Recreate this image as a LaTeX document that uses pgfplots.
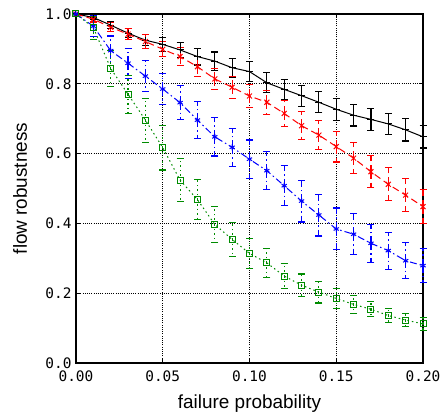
\documentclass[border=0pt]{standalone}
\usepackage{fontspec}
\setmainfont{Liberation Sans}
\setmonofont{DejaVu Sans Mono}
\usepackage{pgfplots}
\usepackage{pgfplotstable}
\pgfplotsset{compat=1.18}
\definecolor{gpgreen}{RGB}{0,140,0}

\pgfplotstableread{
x y e
0.00 1.000 0
0.01 0.990 0.005
0.02 0.968 0.010
0.03 0.945 0.013
0.04 0.925 0.016
0.05 0.913 0.020
0.06 0.897 0.022
0.07 0.878 0.024
0.08 0.865 0.026
0.09 0.846 0.027
0.10 0.835 0.028
0.11 0.803 0.029
0.12 0.784 0.029
0.13 0.766 0.030
0.14 0.747 0.030
0.15 0.727 0.031
0.16 0.710 0.031
0.17 0.698 0.031
0.18 0.685 0.031
0.19 0.668 0.032
0.20 0.648 0.032
}\blackdata

\pgfplotstableread{
x y e
0.00 1.000 0
0.01 0.985 0.008
0.02 0.962 0.013
0.03 0.942 0.016
0.04 0.921 0.019
0.05 0.899 0.022
0.06 0.878 0.025
0.07 0.849 0.028
0.08 0.814 0.030
0.09 0.790 0.032
0.10 0.765 0.033
0.11 0.747 0.035
0.12 0.715 0.038
0.13 0.680 0.040
0.14 0.653 0.042
0.15 0.620 0.044
0.16 0.587 0.045
0.17 0.548 0.046
0.18 0.512 0.047
0.19 0.481 0.048
0.20 0.448 0.048
}\reddata

\pgfplotstableread{
x y e
0.00 1.000 0
0.01 0.965 0.030
0.02 0.895 0.042
0.03 0.859 0.043
0.04 0.822 0.044
0.05 0.785 0.045
0.06 0.746 0.048
0.07 0.696 0.054
0.08 0.648 0.055
0.09 0.618 0.055
0.10 0.584 0.055
0.11 0.551 0.055
0.12 0.508 0.058
0.13 0.464 0.060
0.14 0.424 0.060
0.15 0.384 0.060
0.16 0.369 0.059
0.17 0.343 0.055
0.18 0.322 0.053
0.19 0.293 0.051
0.20 0.279 0.048
}\bluedata

\pgfplotstableread{
x y e
0.00 1.000 0
0.01 0.961 0.033
0.02 0.844 0.052
0.03 0.770 0.055
0.04 0.696 0.063
0.05 0.617 0.064
0.06 0.524 0.062
0.07 0.468 0.058
0.08 0.397 0.052
0.09 0.354 0.048
0.10 0.314 0.044
0.11 0.287 0.042
0.12 0.249 0.036
0.13 0.223 0.032
0.14 0.203 0.031
0.15 0.185 0.029
0.16 0.168 0.026
0.17 0.154 0.022
0.18 0.136 0.021
0.19 0.123 0.019
0.20 0.112 0.019
}\greendata

\begin{document}
\begin{tikzpicture}
\begin{axis}[
  scale only axis,
  width=347bp, height=349bp,
  xmin=0, xmax=0.2, ymin=0, ymax=1,
  xtick={0,0.05,0.1,0.15,0.2},
  ytick={0,0.2,0.4,0.6,0.8,1.0},
  scaled x ticks=false, scaled y ticks=false,
  xticklabel style={/pgf/number format/fixed, /pgf/number format/fixed zerofill, /pgf/number format/precision=2, yshift=-4bp},
  yticklabel style={/pgf/number format/fixed, /pgf/number format/fixed zerofill, /pgf/number format/precision=1, xshift=-1bp},
  /pgf/number format/assume math mode=true,
  tick label style={font=\ttfamily\fontsize{14.5}{14.5}\selectfont},
  label style={font=\fontsize{19}{22}\selectfont},
  xlabel={failure probability},
  ylabel={flow robustness},
  xlabel style={at={(axis description cs:0.5,-0.115)}, anchor=center},
  ylabel style={at={(axis description cs:-0.161,0.5)}, anchor=center},
  grid=major,
  major grid style={black, line width=0.6bp, dash pattern=on 1bp off 1.2bp},
  tick align=inside,
  major tick length=4bp,
  tick style={black, line width=0.8bp},
  axis line style={black, line width=1.3bp},
  clip=false,
  error bars/y dir=both,
  error bars/y explicit,
]
\addplot[black, line width=1bp, mark=+, mark size=3.5bp, mark options={solid},
  error bars/error bar style={black, line width=1.1bp},
  error bars/error mark options={black, solid, rotate=90, mark size=3.5bp, line width=1.1bp}]
  table[x=x, y=y, y error=e] {\blackdata};
\addplot[red, line width=1bp, dash pattern=on 7bp off 4bp, mark=x, mark size=3.5bp, mark options={solid},
  error bars/error bar style={red, line width=1.1bp},
  error bars/error mark options={red, solid, rotate=90, mark size=3.5bp, line width=1.1bp}]
  table[x=x, y=y, y error=e] {\reddata};
\addplot[blue, line width=1bp, dash pattern=on 7bp off 3bp on 1.5bp off 3bp, mark=asterisk, mark size=3bp, mark options={solid},
  error bars/error bar style={blue, line width=1.1bp},
  error bars/error mark options={blue, solid, rotate=90, mark size=3.5bp, line width=1.1bp}]
  table[x=x, y=y, y error=e] {\bluedata};
\addplot[gpgreen, line width=1bp, dash pattern=on 1.5bp off 3bp, mark=square, mark size=3bp, mark options={solid},
  error bars/error bar style={gpgreen, line width=1.1bp},
  error bars/error mark options={gpgreen, solid, rotate=90, mark size=3.5bp, line width=1.1bp}]
  table[x=x, y=y, y error=e] {\greendata};
\end{axis}
\pgfresetboundingbox
\path[use as bounding box] (-76bp,-56bp) rectangle (367bp,363bp);
\end{tikzpicture}
\end{document}
